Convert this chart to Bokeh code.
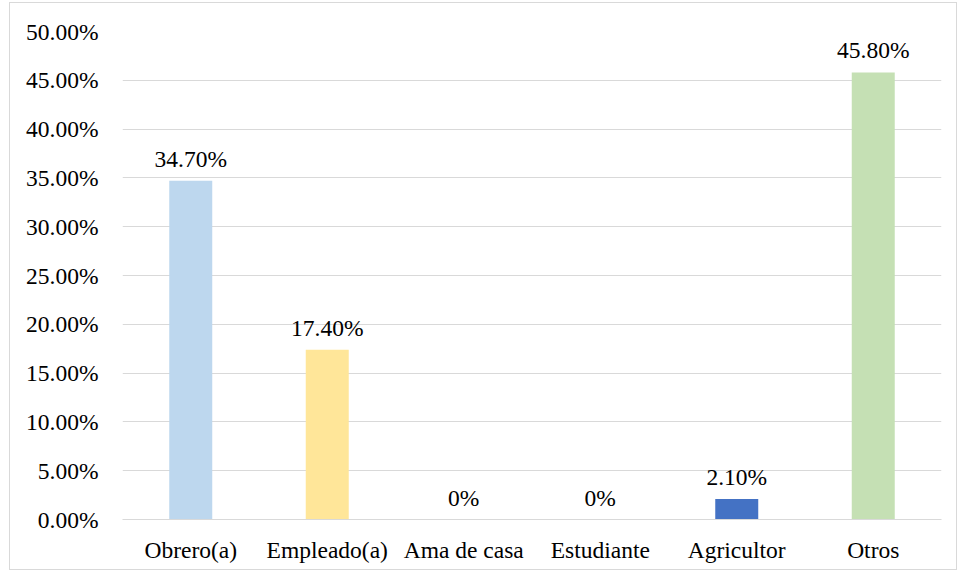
from bokeh.plotting import figure
from bokeh.models import ColumnDataSource, NumeralTickFormatter, SingleIntervalTicker, LabelSet
from bokeh.embed import file_html
from bokeh.resources import INLINE
from bokeh.core.properties import value

categories = ["Obrero(a)", "Empleado(a)", "Ama de casa", "Estudiante", "Agricultor", "Otros"]
values = [0.347, 0.174, 0.0, 0.0, 0.021, 0.458]
labels = ["34.70%", "17.40%", "0%", "0%", "2.10%", "45.80%"]
colors = ["#BDD7EE", "#FFE699", "#FFFFFF", "#FFFFFF", "#4472C4", "#C5E0B4"]

src = ColumnDataSource(dict(cat=categories, val=values, lab=labels, col=colors))

FONT = "'Liberation Serif', serif"
FS = "23.5px"

p = figure(x_range=categories, y_range=(0, 0.5), width=948, height=568,
           output_backend="svg", toolbar_location=None,
           min_border_left=112, min_border_right=17, min_border_top=28, min_border_bottom=52)
p.styles = {"border": "1px solid #d9d9d9", "margin-left": "9px", "margin-top": "2px"}
p.outline_line_color = None
p.background_fill_color = "white"

p.vbar(x="cat", top="val", width=0.315, fill_color="col", line_color=None, source=src)

p.add_layout(LabelSet(x="cat", y="val", text="lab", source=src, text_align="center",
                      text_baseline="alphabetic", y_offset=14,
                      text_font=value(FONT), text_font_size=FS, text_color="#000000"))

p.yaxis.ticker = SingleIntervalTicker(interval=0.05)
p.yaxis.formatter = NumeralTickFormatter(format="0.00%")
p.yaxis.axis_line_color = None
p.yaxis.major_tick_line_color = None
p.yaxis.minor_tick_line_color = None
p.yaxis.major_label_standoff = 18
p.xaxis.axis_line_color = "#d9d9d9"
p.xaxis.major_tick_line_color = None
p.xaxis.minor_tick_line_color = None
p.xaxis.major_label_standoff = 11
for ax in (p.xaxis, p.yaxis):
    ax.major_label_text_font = FONT
    ax.major_label_text_font_size = FS
    ax.major_label_text_color = "#000000"

p.xgrid.grid_line_color = None
p.ygrid.grid_line_color = "#d9d9d9"
p.ygrid.grid_line_width = 1

open("out.html", "w").write(file_html(p, INLINE))
